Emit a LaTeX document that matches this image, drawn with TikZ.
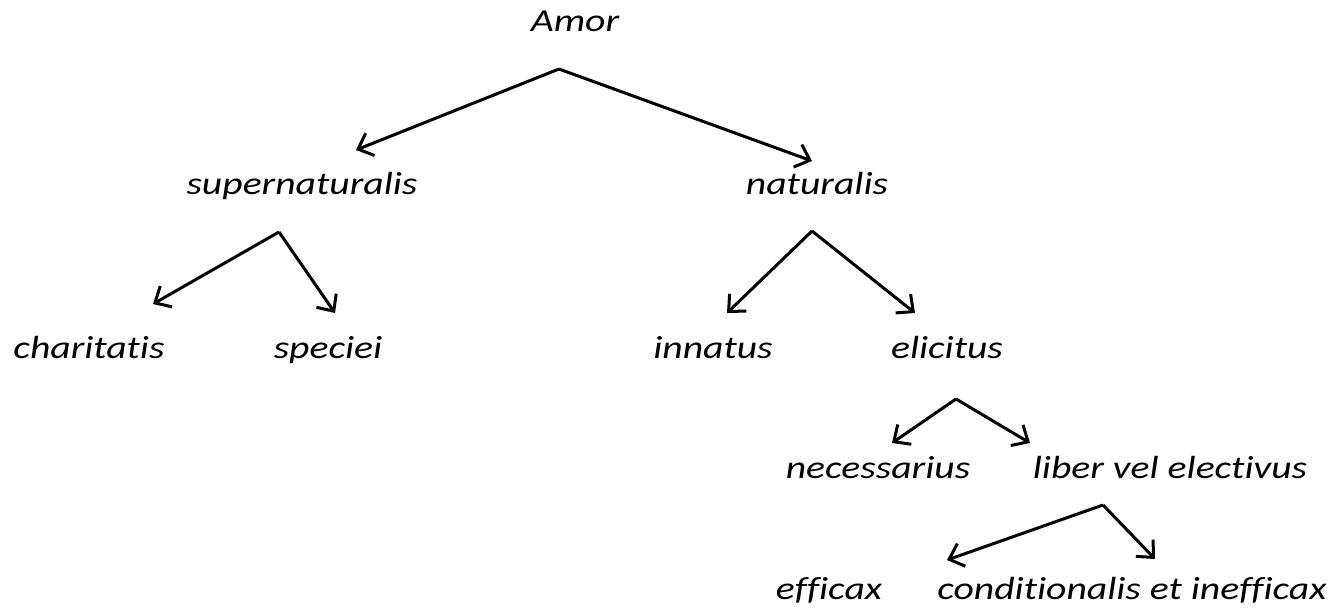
\documentclass[tikz,border=0pt]{standalone}
\usepackage{fontspec}
\setmainfont{Carlito}[FakeStretch=1.24,Ligatures=NoCommon]
\usetikzlibrary{arrows.meta}
\begin{document}
\begin{tikzpicture}[x=1pt,y=-1pt,
  lbl/.style={anchor=base,inner sep=0pt,font=\itshape\fontsize{32}{38}\selectfont},
  conn/.style={line width=3pt,-{Straight Barb[length=13pt,width=24pt,line width=3pt]}}]
\useasboundingbox (0,0) rectangle (1344,615);
% labels
\node[lbl] (amor) at (575,32) {Amor};
\node[lbl] (super) at (302,194) {supernaturalis};
\node[lbl] (nat) at (817,194) {naturalis};
\node[lbl] (char) at (89,358) {charitatis};
\node[lbl] (spec) at (328,358) {speciei};
\node[lbl] (inn) at (713,358) {innatus};
\node[lbl] (elic) at (947,358) {elicitus};
\node[lbl] (nec) at (878,478) {necessarius};
\node[lbl] (lib) at (1170,478) {liber vel electivus};
\node[lbl] (eff) at (829,599) {efficax};
\node[lbl] (cond) at (1132,599) {conditionalis et inefficax};
% connector points
\coordinate (a0) at (559,69);
\coordinate (a1) at (356,150);
\coordinate (a2) at (812,161);
\coordinate (s0) at (279,232);
\coordinate (s1) at (153,304);
\coordinate (s2) at (335,313);
\coordinate (n0) at (812,231);
\coordinate (n1) at (727,313);
\coordinate (n2) at (915,313);
\coordinate (e0) at (956,399);
\coordinate (e1) at (892,443);
\coordinate (e2) at (1030,443);
\coordinate (l0) at (1103,505);
\coordinate (l1) at (947,560);
\coordinate (l2) at (1155,559);
\draw[conn] (a0) -- (a1);
\draw[conn] (a0) -- (a2);
\draw[conn] (s0) -- (s1);
\draw[conn] (s0) -- (s2);
\draw[conn] (n0) -- (n1);
\draw[conn] (n0) -- (n2);
\draw[conn] (e0) -- (e1);
\draw[conn] (e0) -- (e2);
\draw[conn] (l0) -- (l1);
\draw[conn] (l0) -- (l2);
\end{tikzpicture}
\end{document}
